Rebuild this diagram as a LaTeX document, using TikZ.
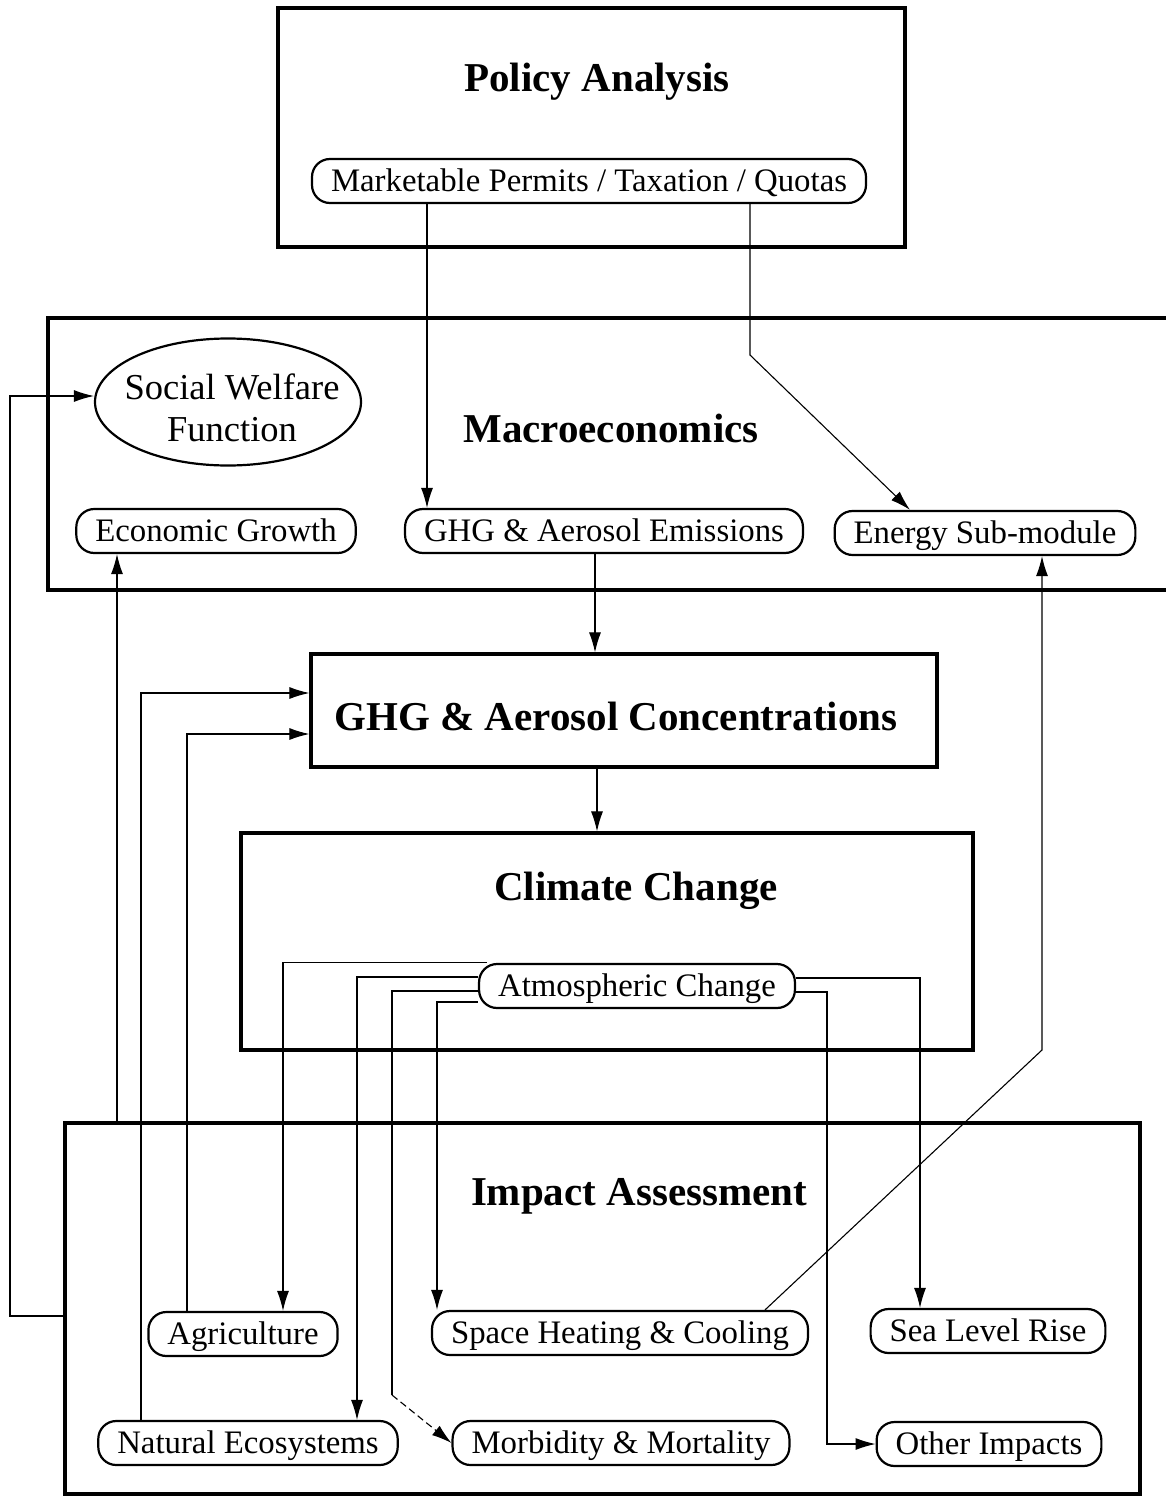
\documentclass[tikz,border=0pt]{standalone}
\usepackage{fontspec}
\setmainfont{Liberation Serif}
\usetikzlibrary{positioning,arrows.meta,shapes.geometric}
\newcommand{\modfont}{\fontsize{41}{48}\selectfont\bfseries}
\newcommand{\itemfont}{\fontsize{32.8}{38}\selectfont}

\begin{document}
\begin{tikzpicture}[x=1pt,y=-1pt,
  module/.style={draw,line width=3.2pt,inner sep=0pt},
  modtitle/.style={font=\modfont,inner sep=0pt},
  item/.style={draw,line width=2.2pt,rounded corners=18pt,minimum height=44pt,
    text height=28pt,text depth=7pt,inner xsep=19pt,inner ysep=0pt,font=\itemfont,fill=white},
  conn/.style={line width=1.1pt},
  arr/.style={conn,-{Latex[length=20pt,width=12pt]}}]
\useasboundingbox (0,0) rectangle (1165,1496);

\node[module,minimum width=627pt,minimum height=239pt] (policy) at (591.5,127.5) {};
\node[module,minimum width=1122pt,minimum height=272pt] (macro) at (609,454) {};
\node[module,minimum width=626pt,minimum height=113pt] (conc) at (624,710.5) {};
\node[module,minimum width=732pt,minimum height=217pt] (climate) at (607,941.5) {};
\node[module,minimum width=1075pt,minimum height=371pt] (impact) at (602.5,1308.5) {};

\node[modtitle] (policytitle) at (597,82) {Policy Analysis};
\node[modtitle] (macrotitle) at (611,428) {Macroeconomics};
\node[modtitle] (conctitle) at (616,716) {GHG \& Aerosol Concentrations};
\node[modtitle] (climatetitle) at (636,891) {Climate Change};
\node[modtitle] (impacttitle) at (639,1196) {Impact Assessment};

\node[item] (mkt) at (589,181) {Marketable Permits / Taxation / Quotas};
\node[draw,ellipse,line width=2.2pt,minimum width=266pt,minimum height=127pt,inner sep=0pt] (swf) at (228,402) {};
\node[align=center,inner sep=0pt,font=\fontsize{36.5}{42}\selectfont] (swftext) at (232,408) {Social Welfare\\Function};
\node[item] (econ) at (216,531) {Economic Growth};
\node[item] (emis) at (604,531) {GHG \& Aerosol Emissions};
\node[item] (energy) at (985,533) {Energy Sub-module};
\node[item] (atm) at (637,986) {Atmospheric Change};
\node[item] (agri) at (243,1334) {Agriculture};
\node[item] (space) at (620,1333) {Space Heating \& Cooling};
\node[item] (sea) at (988,1331) {Sea Level Rise};
\node[item] (nat) at (248,1443) {Natural Ecosystems};
\node[item] (morb) at (621,1443) {Morbidity \& Mortality};
\node[item] (other) at (989,1444) {Other Impacts};

\coordinate (polbend) at (750,355);
\coordinate (fbcorner) at (10,396);
\coordinate (enbend) at (1042,1050);
\coordinate (morbbend) at (392,1395);
\coordinate (otherbend) at (827,1444);

\draw[arr] ([xshift=-162pt]mkt.south) -- ([xshift=-177pt]emis.north);
\draw[arr] ([xshift=161pt]mkt.south) -- (polbend) -- ([xshift=-75pt]energy.north);
\draw[arr] ([xshift=-9pt]emis.south) -- ([xshift=-29pt]conc.north);
\draw[arr] ([xshift=-27pt]conc.south) -- ([xshift=-10pt]climate.north);

\draw[arr] ([yshift=-7.5pt]impact.west) -| (fbcorner) -- ([yshift=6pt]swf.west);
\draw[arr] ([xshift=-485.5pt]impact.north) -- ([xshift=-99pt]econ.south);
\draw[arr] ([xshift=-107pt]nat.north) |- ([yshift=17.5pt]conc.west);
\draw[arr] ([xshift=-56pt]agri.north) |- ([yshift=-23.5pt]conc.west);
\draw[arr] ([xshift=145pt]space.north) -- (enbend) -- ([xshift=57pt]energy.south);

\draw[arr] ([xshift=9pt]atm.north west) -| ([xshift=40pt]agri.north);
\draw[arr] ([yshift=9pt]atm.west) -| ([xshift=109pt]nat.north);
\draw[conn] ([yshift=-5pt]atm.west) -| (morbbend);
\draw[arr,dash pattern=on 7pt off 4pt] (morbbend) -- (morb.west);
\draw[arr] ([yshift=-16pt]atm.west) -| ([xshift=-183pt]space.north);
\draw[arr] ([yshift=8pt]atm.east) -| ([xshift=-68pt]sea.north);
\draw[arr] ([yshift=-6pt]atm.east) -| (otherbend) -- (other.west);
\end{tikzpicture}
\end{document}
